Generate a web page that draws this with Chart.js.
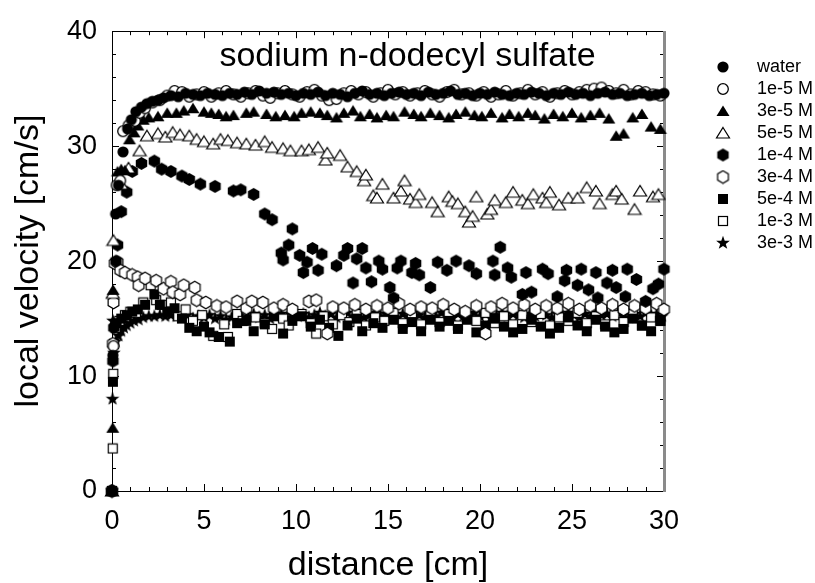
<!DOCTYPE html>
<html>
<head>
<meta charset="utf-8">
<script src="https://cdn.jsdelivr.net/npm/chart.js@4/dist/chart.umd.min.js"></script>
<style>
html,body{margin:0;padding:0;background:#fff;}
canvas{display:block;}
</style>
</head>
<body>
<canvas id="c" width="815" height="583"></canvas>
<script>
// ---------- data (x [cm], local velocity [cm/s]) ----------
const seriesNames = ['water','1e-5 M','3e-5 M','5e-5 M','1e-4 M','3e-4 M','5e-4 M','1e-3 M','3e-3 M'];
const xTickLabels = [0,5,10,15,20,25,30];
const yTickLabels = [0,10,20,30,40];

const water = [[0,0],[0.05,11.8],[0.2,24.1],[0.35,26.6],[0.6,29.5],[0.85,31.5],[1.05,32.3],[1.3,33.0],[1.6,33.4],[1.9,33.7],[2.2,33.9],[2.5,34.0],[2.8,34.2],[3.2,34.4],[3.6,34.3],[4.0,34.6],[4.4,34.5],[4.8,34.4],[5.2,34.6],[5.6,34.5],[6.0,34.4],[6.4,34.6],[6.8,34.5],[7.2,34.7],[7.6,34.5],[8.0,34.8],[8.4,34.6],[8.8,34.7],[9.2,34.5],[9.6,34.6],[10.0,34.4],[10.4,34.6],[10.8,34.5],[11.2,34.7],[11.6,34.4],[12.0,34.6],[12.4,34.5],[12.8,34.3],[13.2,34.6],[13.6,34.8],[14.0,34.5],[14.4,34.6],[14.8,34.4],[15.2,34.6],[15.6,34.7],[16.0,34.5],[16.4,34.6],[16.8,34.4],[17.2,34.7],[17.6,34.5],[18.0,34.6],[18.4,34.8],[18.8,34.5],[19.2,34.6],[19.6,34.4],[20.0,34.6],[20.4,34.5],[20.8,34.7],[21.2,34.5],[21.6,34.4],[22.0,34.6],[22.4,34.5],[22.8,34.7],[23.2,34.6],[23.6,34.4],[24.0,34.6],[24.4,34.5],[24.8,34.7],[25.2,34.5],[25.6,34.6],[26.0,34.4],[26.4,34.6],[26.8,34.7],[27.2,34.5],[27.6,34.6],[28.0,34.4],[28.4,34.5],[28.8,34.6],[29.2,34.4],[29.6,34.5],[30.0,34.6]];

const c1e5 = [[0,0],[0.08,12.6],[0.25,26.6],[0.45,27.0],[0.6,31.3],[0.9,31.8],[1.25,32.2],[1.5,32.9],[1.8,33.3],[2.2,33.8],[2.6,34.0],[3.0,34.4],[3.4,34.8],[3.8,34.7],[4.2,34.3],[4.6,34.5],[5.0,34.7],[5.4,34.3],[5.8,34.6],[6.2,34.8],[6.6,34.5],[7.0,34.3],[7.4,34.6],[7.8,34.8],[8.2,34.4],[8.6,34.2],[9.0,34.6],[9.4,34.8],[9.8,34.5],[10.2,34.3],[10.6,34.7],[11.0,34.9],[11.4,34.4],[11.8,34.0],[12.2,34.1],[12.6,34.6],[13.0,34.8],[13.4,34.5],[13.8,34.7],[14.2,34.3],[14.6,34.6],[15.0,34.9],[15.4,34.5],[15.8,34.7],[16.2,34.4],[16.6,34.6],[17.0,34.8],[17.4,34.5],[17.8,34.3],[18.2,34.7],[18.6,34.9],[19.0,34.5],[19.4,34.6],[19.8,34.4],[20.2,34.7],[20.6,34.3],[21.0,34.5],[21.4,34.8],[21.8,34.4],[22.2,34.6],[22.6,34.9],[23.0,34.5],[23.4,34.7],[23.8,34.3],[24.2,34.6],[24.6,34.8],[25.0,34.5],[25.4,34.7],[25.8,34.9],[26.2,35.0],[26.6,35.1],[27.0,34.8],[27.4,34.6],[27.8,34.9],[28.2,34.5],[28.6,34.8],[29.0,34.7],[29.4,34.5],[29.8,34.4]];

const c3e5 = [[0,0],[0.04,5.5],[0.06,17.5],[0.3,27.8],[0.5,28.0],[0.7,27.9],[0.95,30.6],[1.2,31.2],[1.4,31.8],[1.7,32.3],[2.0,32.5],[2.5,32.6],[3.0,32.9],[3.5,32.9],[3.9,33.1],[4.4,33.3],[5.0,33.0],[5.4,32.9],[5.8,32.8],[6.2,32.6],[6.6,32.7],[7.3,32.9],[7.7,33.0],[8.4,32.8],[8.9,32.6],[9.4,32.7],[9.9,32.6],[10.3,32.9],[10.8,33.0],[11.3,32.9],[11.7,32.7],[12.2,32.5],[12.6,32.9],[13.1,33.1],[13.5,32.6],[14.0,32.8],[14.4,32.5],[14.9,32.7],[15.3,32.6],[15.9,33.0],[16.4,32.8],[16.8,32.6],[17.3,32.9],[17.8,32.7],[18.3,32.5],[18.7,32.8],[19.2,33.0],[19.7,32.7],[20.1,32.6],[20.6,32.9],[21.2,32.5],[21.6,32.8],[22.1,32.6],[22.6,32.9],[23.0,32.7],[23.5,32.4],[24.0,32.8],[24.5,32.6],[25.0,32.9],[25.5,32.5],[26.0,32.7],[26.5,32.9],[27.0,32.4],[27.4,30.9],[27.8,31.1],[28.3,32.5],[28.8,32.8],[29.3,31.7],[29.8,31.5]];

const c5e5 = [[0,0],[0.04,17.2],[0.08,21.8],[0.5,26.7],[0.9,28.1],[1.5,29.6],[1.9,30.9],[2.5,31.1],[2.9,30.8],[3.3,31.2],[3.7,31.0],[4.2,30.9],[4.6,30.6],[5.0,30.4],[5.5,30.2],[5.9,30.6],[6.3,30.5],[6.8,30.3],[7.3,30.2],[7.8,30.1],[8.3,30.4],[8.7,29.9],[9.3,29.8],[9.7,29.6],[10.3,29.6],[10.7,29.7],[11.2,29.9],[11.6,28.8],[11.7,29.4],[12.4,29.2],[12.8,28.2],[13.3,27.8],[13.7,27.0],[13.8,27.5],[14.2,25.7],[14.4,25.5],[14.7,26.7],[15.3,25.5],[15.7,26.1],[15.9,27.0],[16.2,25.4],[16.5,25.1],[16.7,25.8],[17.4,25.1],[17.7,24.3],[18.3,25.6],[18.5,25.2],[18.8,25.0],[19.2,24.3],[19.4,23.4],[19.6,23.9],[19.8,25.6],[20.4,24.1],[20.6,24.5],[20.8,25.3],[21.4,25.1],[21.8,26.0],[22.3,25.3],[22.6,25.0],[22.9,25.8],[23.4,25.5],[23.6,25.1],[23.8,26.0],[24.3,24.9],[24.8,25.5],[25.3,25.5],[25.8,26.4],[26.3,26.1],[26.5,25.0],[27.2,25.8],[27.4,26.1],[27.7,25.4],[28.4,24.5],[28.7,26.1],[29.4,25.6],[29.7,25.8]];

const c1e4 = [[0,0],[0.05,11.3],[0.1,14.2],[0.22,20.0],[0.3,21.4],[0.5,24.3],[0.8,26.0],[1.1,27.8],[1.6,28.5],[2.3,28.7],[2.7,28.0],[3.2,27.8],[3.8,27.4],[4.2,27.1],[4.8,26.7],[5.6,26.5],[6.6,26.1],[7.0,26.2],[7.7,25.8],[8.3,24.1],[8.7,23.6],[9.2,20.7],[9.3,20.1],[9.6,21.4],[9.8,22.8],[10.2,20.5],[10.4,19.0],[10.6,19.9],[10.9,21.1],[11.2,19.2],[11.4,20.6],[12.2,19.6],[12.6,20.5],[12.8,21.1],[13.1,18.1],[13.3,20.2],[13.6,21.1],[13.8,19.4],[14.1,18.2],[14.5,20.0],[14.7,19.3],[15.1,17.7],[15.3,16.8],[15.5,19.4],[15.7,20.0],[16.3,19.0],[16.5,19.8],[16.7,18.8],[17.3,17.7],[17.7,19.9],[18.2,19.2],[18.7,20.0],[19.4,19.6],[19.8,18.9],[20.7,20.0],[20.8,18.8],[21.1,21.2],[21.5,19.4],[21.7,18.6],[22.3,17.1],[22.5,19.0],[22.8,17.3],[23.4,19.3],[23.7,18.9],[24.2,16.9],[24.6,18.3],[24.7,19.2],[25.3,17.9],[25.5,19.3],[25.9,17.5],[26.3,19.0],[26.4,16.8],[26.9,18.1],[27.2,19.2],[27.4,17.7],[27.9,16.9],[28.0,19.3],[28.5,18.4],[29.0,16.5],[29.4,17.6],[29.7,18.0],[30.0,19.3]];

const c3e4 = [[0,0],[0.05,12.8],[0.08,16.4],[0.15,19.8],[0.3,19.9],[0.45,19.2],[0.7,19.0],[1.1,18.8],[1.4,18.6],[1.45,17.9],[1.8,18.5],[2.4,18.3],[2.8,17.6],[3.2,18.2],[3.3,17.3],[3.7,17.1],[3.9,17.9],[4.5,17.7],[4.6,16.6],[5.1,16.4],[5.7,16.1],[6.2,16.0],[6.8,16.5],[7.3,15.9],[7.6,16.5],[8.2,16.4],[8.8,15.9],[9.3,16.2],[9.8,15.8],[10.7,16.5],[11.1,16.6],[11.7,13.7],[12.0,16.0],[12.6,15.9],[13.2,16.2],[13.8,15.8],[14.4,16.1],[15.0,15.9],[15.6,16.3],[16.2,15.8],[16.8,16.0],[17.4,15.9],[18.0,16.2],[18.6,15.8],[19.2,15.6],[19.8,16.1],[20.3,13.7],[20.6,16.0],[21.2,16.3],[21.8,15.9],[22.4,16.2],[23.0,15.8],[23.6,16.1],[24.2,15.9],[24.8,16.3],[25.4,15.8],[26.0,16.1],[26.6,15.9],[27.2,16.2],[27.8,15.8],[28.4,16.1],[29.0,15.9],[29.6,16.3],[30.0,15.8]];

const c5e4 = [[0,0],[0.05,9.5],[0.1,12.8],[0.25,14.6],[0.5,15.0],[0.8,15.3],[1.1,15.6],[1.4,15.8],[1.8,16.2],[2.3,17.1],[2.6,16.2],[3.0,15.6],[3.4,15.9],[3.8,15.0],[4.2,14.2],[4.6,13.9],[5.0,14.3],[5.3,13.8],[5.8,13.4],[6.4,13.0],[6.8,14.6],[7.3,14.8],[7.7,13.9],[8.3,14.5],[8.8,15.2],[9.3,13.7],[9.8,14.8],[10.3,15.2],[10.8,14.3],[11.3,14.9],[11.8,14.2],[12.3,13.5],[12.8,14.4],[13.3,15.0],[13.6,13.9],[14.2,14.6],[14.7,14.2],[15.3,14.9],[15.8,14.1],[16.3,14.7],[16.8,13.9],[17.3,14.9],[17.8,14.3],[18.3,14.8],[18.8,14.1],[19.3,14.9],[19.8,13.8],[20.3,14.4],[20.8,15.0],[21.3,14.3],[21.8,13.8],[22.3,14.1],[22.8,14.9],[23.3,14.3],[23.8,13.7],[24.3,14.2],[24.8,15.1],[25.3,14.4],[25.8,13.9],[26.3,14.9],[26.8,14.3],[27.3,13.8],[27.8,14.1],[28.3,15.0],[28.8,14.4],[29.3,13.9],[29.8,14.8]];

const c1e3 = [[0,0],[0.04,3.7],[0.07,10.2],[0.2,14.2],[0.4,14.8],[0.7,15.3],[1.0,15.6],[1.3,15.5],[1.7,16.4],[2.1,17.9],[2.4,16.6],[2.7,16.2],[3.2,16.4],[3.6,15.2],[4.0,15.8],[4.4,14.8],[4.9,15.3],[5.5,13.5],[6.1,14.5],[6.3,13.4],[6.8,15.4],[7.1,14.8],[7.8,15.1],[8.3,14.6],[8.7,14.1],[9.3,15.0],[9.6,14.4],[10.3,15.4],[10.8,14.6],[11.1,13.7],[11.5,15.2],[12.0,14.5],[12.5,15.3],[12.9,14.7],[13.3,15.4],[13.8,14.4],[14.3,15.1],[14.8,14.8],[15.3,15.5],[15.8,14.6],[16.3,15.2],[16.8,14.5],[17.3,15.3],[17.8,14.7],[18.3,15.4],[18.8,14.4],[19.3,15.1],[19.8,14.8],[20.3,15.5],[20.8,14.6],[21.3,15.2],[21.8,14.5],[22.3,15.3],[22.8,14.7],[23.3,15.4],[23.8,14.4],[24.3,15.1],[24.8,14.8],[25.3,15.5],[25.8,14.6],[26.3,15.2],[26.8,14.5],[27.3,15.3],[27.8,14.7],[28.3,15.4],[28.8,14.4],[29.3,15.1],[29.8,14.8]];

const c3e3 = [[0,0],[0.03,8.0],[0.05,14.8],[0.1,12.0],[0.2,13.0],[0.35,13.5],[0.5,13.9],[0.65,14.2],[0.8,14.4],[1.0,14.6],[1.2,14.8],[1.45,14.9],[1.7,15.1],[2.0,15.2],[2.3,15.2],[2.6,15.3],[2.9,15.2],[3.2,15.3],[3.5,15.2],[3.8,15.1],[4.1,15.3],[4.4,15.0],[4.7,15.2],[5.0,15.1],[5.3,15.3],[5.6,15.0],[5.9,15.2],[6.2,14.9],[6.5,15.1],[6.8,15.3],[7.1,15.0],[7.4,15.2],[7.7,15.4],[8.0,15.1],[8.3,15.3],[8.6,15.0],[8.9,15.2],[9.2,15.4],[9.5,15.1],[9.8,15.3],[10.1,15.2],[10.4,15.4],[10.7,15.1],[11.0,15.3],[11.3,15.5],[11.6,15.2],[11.9,15.4],[12.2,15.1],[12.5,15.3],[12.8,15.5],[13.1,15.2],[13.4,15.4],[13.7,15.1],[14.0,15.3],[14.3,15.5],[14.6,15.2],[14.9,15.4],[15.2,15.3],[15.5,15.1],[15.8,15.4],[16.1,15.2],[16.4,15.5],[16.7,15.3],[17.0,15.1],[17.3,15.4],[17.6,15.2],[17.9,15.5],[18.2,15.3],[18.5,15.1],[18.8,15.4],[19.1,15.2],[19.4,15.3],[19.7,15.5],[20.0,15.2],[20.3,15.4],[20.6,15.1],[20.9,15.3],[21.2,15.5],[21.5,15.2],[21.8,15.4],[22.1,15.3],[22.4,15.1],[22.7,15.4],[23.0,15.2],[23.3,15.5],[23.6,15.3],[23.9,15.1],[24.2,15.4],[24.5,15.2],[24.8,15.5],[25.1,15.3],[25.4,15.1],[25.7,15.4],[26.0,15.2],[26.3,15.5],[26.6,15.3],[26.9,15.4],[27.2,15.2],[27.5,15.5],[27.8,15.3],[28.1,15.1],[28.4,15.4],[28.7,15.2],[29.0,15.5],[29.3,15.3],[29.6,15.4],[29.9,15.2]];

const seriesData = [water, c1e5, c3e5, c5e5, c1e4, c3e4, c5e4, c1e3, c3e3];

// ---------- marker images ----------
function mk(size, draw) {
  const c = document.createElement('canvas');
  c.width = size; c.height = size;
  const g = c.getContext('2d');
  g.lineJoin = 'miter';
  draw(g, size / 2);
  return c;
}
function hexPath(g, m, r) {
  g.beginPath();
  for (let k = 0; k < 6; k++) {
    const a = -Math.PI / 2 + k * Math.PI / 3;
    const px = m + r * Math.cos(a), py = m + r * Math.sin(a);
    k ? g.lineTo(px, py) : g.moveTo(px, py);
  }
  g.closePath();
}
function triPath(g, m) {
  g.beginPath();
  g.moveTo(m, m - 5.5); g.lineTo(m + 6.5, m + 5); g.lineTo(m - 6.5, m + 5); g.closePath();
}
function starPath(g, m, R, r) {
  g.beginPath();
  for (let k = 0; k < 10; k++) {
    const a = -Math.PI / 2 + k * Math.PI / 5;
    const rad = k % 2 ? r : R;
    const px = m + rad * Math.cos(a), py = m + rad * Math.sin(a);
    k ? g.lineTo(px, py) : g.moveTo(px, py);
  }
  g.closePath();
}
const markers = [
  mk(14, (g, m) => { g.beginPath(); g.arc(m, m, 5.6, 0, 2 * Math.PI); g.fillStyle = '#000'; g.fill(); }),
  mk(14, (g, m) => { g.beginPath(); g.arc(m, m, 5.3, 0, 2 * Math.PI); g.fillStyle = '#fff'; g.fill(); g.lineWidth = 1.3; g.strokeStyle = '#000'; g.stroke(); }),
  mk(16, (g, m) => { triPath(g, m); g.fillStyle = '#000'; g.fill(); }),
  mk(16, (g, m) => { triPath(g, m); g.fillStyle = '#fff'; g.fill(); g.lineWidth = 1.2; g.strokeStyle = '#000'; g.stroke(); }),
  mk(15, (g, m) => { hexPath(g, m, 6.6); g.fillStyle = '#000'; g.fill(); }),
  mk(15, (g, m) => { hexPath(g, m, 6.2); g.fillStyle = '#fff'; g.fill(); g.lineWidth = 1.2; g.strokeStyle = '#000'; g.stroke(); }),
  mk(12, (g, m) => { g.fillStyle = '#000'; g.fillRect(1, 1, 10, 10); }),
  mk(12, (g, m) => { g.fillStyle = '#fff'; g.fillRect(1.5, 1.5, 9, 9); g.lineWidth = 1.2; g.strokeStyle = '#000'; g.strokeRect(1.5, 1.5, 9, 9); }),
  mk(16, (g, m) => { starPath(g, m, 7.2, 2.9); g.fillStyle = '#000'; g.fill(); })
];

// ---------- frame with inward ticks ----------
const framePlugin = {
  id: 'frame',
  beforeDatasetsDraw(chart) {
    const {ctx, chartArea: a, scales: {x, y}} = chart;
    ctx.save();
    ctx.strokeStyle = '#000';
    ctx.lineWidth = 1;
    ctx.beginPath();
    for (let v = 0; v <= 30; v += 1) {
      const px = Math.round(x.getPixelForValue(v)) + 0.5;
      const len = v % 5 === 0 ? 7 : 4;
      ctx.moveTo(px, a.bottom); ctx.lineTo(px, a.bottom - len);
      ctx.moveTo(px, a.top); ctx.lineTo(px, a.top + len);
    }
    for (let v = 0; v <= 40; v += 2) {
      const py = Math.round(y.getPixelForValue(v)) + 0.5;
      const len = v % 10 === 0 ? 7 : 4;
      ctx.moveTo(a.left, py); ctx.lineTo(a.left + len, py);
      ctx.moveTo(a.right, py); ctx.lineTo(a.right - len, py);
    }
    ctx.stroke();
    ctx.beginPath();
    ctx.moveTo(Math.round(a.left) + 0.5, Math.round(a.top) + 0.5);
    ctx.lineTo(Math.round(a.right), Math.round(a.top) + 0.5);
    ctx.moveTo(Math.round(a.left) + 0.5, Math.round(a.top));
    ctx.lineTo(Math.round(a.left) + 0.5, Math.round(a.bottom) + 0.5);
    ctx.lineTo(Math.round(a.right), Math.round(a.bottom) + 0.5);
    ctx.stroke();
    ctx.strokeStyle = '#8a8a8a';
    ctx.lineWidth = 3;
    ctx.beginPath();
    ctx.moveTo(Math.round(a.right) + 0.5, Math.round(a.top));
    ctx.lineTo(Math.round(a.right) + 0.5, Math.round(a.bottom) + 1);
    ctx.stroke();
    ctx.restore();
  }
};

const FONT = 'Liberation Sans, Arial, Helvetica, sans-serif';

new Chart(document.getElementById('c'), {
  type: 'scatter',
  data: {
    datasets: seriesNames.map((name, i) => ({
      label: name,
      data: seriesData[i].map(p => ({x: p[0], y: p[1]})),
      pointStyle: markers[i],
      pointRadius: 6,
      pointHoverRadius: 6,
      showLine: false,
      clip: false
    }))
  },
  options: {
    responsive: false,
    animation: false,
    devicePixelRatio: 1,
    layout: {padding: 0},
    scales: {
      x: {
        type: 'linear', min: 0, max: 30,
        grid: {display: false, drawTicks: false},
        border: {display: false},
        afterBuildTicks: s => { s.ticks = xTickLabels.map(v => ({value: v})); },
        ticks: {autoSkip: false, maxRotation: 0, padding: 14, color: '#000', font: {family: FONT, size: 27}},
        title: {display: true, text: 'distance [cm]', color: '#000', font: {family: FONT, size: 34}, padding: {top: 0, bottom: -3}},
        afterFit: s => { s.height = 92; }
      },
      y: {
        type: 'linear', min: 0, max: 40,
        grid: {display: false, drawTicks: false},
        border: {display: false},
        afterBuildTicks: s => { s.ticks = yTickLabels.map(v => ({value: v})); },
        ticks: {padding: 15, color: '#000', font: {family: FONT, size: 27}},
        title: {display: true, text: 'local velocity [cm/s]', color: '#000', font: {family: FONT, size: 34}, padding: {top: 8, bottom: 0}},
        afterFit: s => { s.width = 112; }
      },
      y2: {
        type: 'linear', position: 'right', display: true,
        grid: {display: false, drawTicks: false},
        border: {display: false},
        ticks: {display: false},
        afterFit: s => { s.width = 30; }
      }
    },
    plugins: {
      title: {
        display: true,
        text: 'sodium n-dodecyl sulfate',
        color: '#000',
        font: {family: FONT, size: 34, weight: 'normal'},
        padding: {top: 25, bottom: -45.8}
      },
      legend: {
        display: true,
        position: 'right',
        align: 'start',
        maxWidth: 121,
        title: {display: true, text: ' ', font: {size: 10}, padding: 21},
        labels: {
          usePointStyle: true,
          pointStyleWidth: 50,
          padding: 4,
          color: '#000',
          font: {family: FONT, size: 18}
        }
      },
      tooltip: {enabled: false}
    }
  },
  plugins: [framePlugin]
});
</script>
</body>
</html>
